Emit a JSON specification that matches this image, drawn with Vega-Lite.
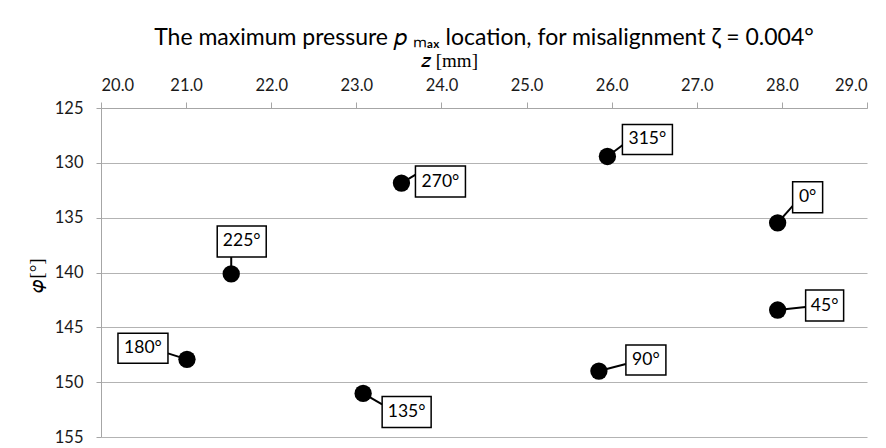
{
  "$schema": "https://vega.github.io/schema/vega-lite/v6.json",
  "autosize": {"type": "none"},
  "padding": {"left": 101, "top": 108, "right": 19, "bottom": 11},
  "width": 766,
  "height": 329,
  "background": "white",
  "config": {
    "view": {"stroke": null},
    "font": "Lato",
    "axis": {"titleFontSize": 19, "labelFontSize": 16.5, "titleFont": "Liberation Serif", "titleFontWeight": "normal", "labelFont": "Lato"}
  },
  "title": {
    "text": "The maximum pressure 𝑝 ₘₐₓ location, for misalignment ζ = 0.004°",
    "font": "Lato",
    "fontSize": 23,
    "fontWeight": "normal",
    "color": "#000000",
    "anchor": "middle",
    "offset": 4,
    "dy": 3
  },
  "data": {
    "values": [
      {"z": 27.95, "phi": 135.47, "label": "0°"},
      {"z": 27.95, "phi": 143.42, "label": "45°"},
      {"z": 25.85, "phi": 148.99, "label": "90°"},
      {"z": 23.08, "phi": 151.03, "label": "135°"},
      {"z": 21.01, "phi": 147.92, "label": "180°"},
      {"z": 21.53, "phi": 140.13, "label": "225°"},
      {"z": 23.53, "phi": 131.85, "label": "270°"},
      {"z": 25.95, "phi": 129.42, "label": "315°"}
    ]
  },
  "encoding": {
    "x": {
      "field": "z", "type": "quantitative",
      "scale": {"domain": [20, 29], "nice": false, "zero": false},
      "axis": {
        "orient": "top", "title": "𝑧 [mm]", "values": [20,21,22,23,24,25,26,27,28,29],
        "format": ".1f", "grid": false,
        "domainColor": "#a6a6a6", "tickColor": "#a6a6a6", "tickSize": 6,
        "labelFont": "Lato", "labelFontSize": 16.5, "labelColor": "#1a1a1a", "labelPadding": 9,
        "titleFont": "Liberation Serif", "titleFontSize": 19, "titleFontWeight": "normal", "titleColor": "#000000",
        "titleX": 348, "titleY": -48, "titleAlign": "center", "titleBaseline": "middle", "titleAnchor": null
      }
    },
    "y": {
      "field": "phi", "type": "quantitative",
      "scale": {"domain": [125, 155], "nice": false, "zero": false, "reverse": true},
      "axis": {
        "title": "𝜑[°]", "values": [125,130,135,140,145,150,155],
        "grid": true, "gridColor": "#b3b3b3", "gridWidth": 1,
        "domainColor": "#a6a6a6", "tickColor": "#a6a6a6", "tickSize": 5,
        "labelFont": "Lato", "labelFontSize": 16.5, "labelColor": "#1a1a1a", "labelPadding": 13,
        "titleFont": "Liberation Serif", "titleFontSize": 19, "titleFontWeight": "normal", "titleColor": "#000000",
        "titleX": -65, "titleY": 167, "titleAlign": "center", "titleBaseline": "middle", "titleAngle": 270
      }
    }
  },
  "layer": [
    {
      "transform": [{"filter": "datum.label === '315°'"}],
      "layer": [
        {"mark": {"type": "rule", "color": "black", "strokeWidth": 2, "x2Offset": 16, "y2Offset": -12}, "encoding": {"x2": {"field": "z"}, "y2": {"field": "phi"}}},
        {"mark": {"type": "rect", "fill": "white", "stroke": "black", "strokeWidth": 1.5, "xOffset": 15, "x2Offset": 65, "yOffset": -32, "y2Offset": -2}, "encoding": {"x2": {"field": "z"}, "y2": {"field": "phi"}}},
        {"mark": {"type": "text", "font": "Lato", "fontSize": 17.5, "color": "black", "dx": 40, "dy": -17, "align": "center", "baseline": "middle"}, "encoding": {"text": {"field": "label"}}}
      ]
    },
    {
      "transform": [{"filter": "datum.label === '0°'"}],
      "layer": [
        {"mark": {"type": "rule", "color": "black", "strokeWidth": 2, "x2Offset": 16, "y2Offset": -18}, "encoding": {"x2": {"field": "z"}, "y2": {"field": "phi"}}},
        {"mark": {"type": "rect", "fill": "white", "stroke": "black", "strokeWidth": 1.5, "xOffset": 15, "x2Offset": 45, "yOffset": -41, "y2Offset": -10}, "encoding": {"x2": {"field": "z"}, "y2": {"field": "phi"}}},
        {"mark": {"type": "text", "font": "Lato", "fontSize": 17.5, "color": "black", "dx": 30, "dy": -25.5, "align": "center", "baseline": "middle"}, "encoding": {"text": {"field": "label"}}}
      ]
    },
    {
      "transform": [{"filter": "datum.label === '45°'"}],
      "layer": [
        {"mark": {"type": "rule", "color": "black", "strokeWidth": 2, "x2Offset": 28, "y2Offset": -3}, "encoding": {"x2": {"field": "z"}, "y2": {"field": "phi"}}},
        {"mark": {"type": "rect", "fill": "white", "stroke": "black", "strokeWidth": 1.5, "xOffset": 28, "x2Offset": 66, "yOffset": -20, "y2Offset": 11}, "encoding": {"x2": {"field": "z"}, "y2": {"field": "phi"}}},
        {"mark": {"type": "text", "font": "Lato", "fontSize": 17.5, "color": "black", "dx": 47, "dy": -4.5, "align": "center", "baseline": "middle"}, "encoding": {"text": {"field": "label"}}}
      ]
    },
    {
      "transform": [{"filter": "datum.label === '90°'"}],
      "layer": [
        {"mark": {"type": "rule", "color": "black", "strokeWidth": 2, "x2Offset": 27, "y2Offset": -7}, "encoding": {"x2": {"field": "z"}, "y2": {"field": "phi"}}},
        {"mark": {"type": "rect", "fill": "white", "stroke": "black", "strokeWidth": 1.5, "xOffset": 27, "x2Offset": 67, "yOffset": -26, "y2Offset": 4}, "encoding": {"x2": {"field": "z"}, "y2": {"field": "phi"}}},
        {"mark": {"type": "text", "font": "Lato", "fontSize": 17.5, "color": "black", "dx": 47, "dy": -11, "align": "center", "baseline": "middle"}, "encoding": {"text": {"field": "label"}}}
      ]
    },
    {
      "transform": [{"filter": "datum.label === '135°'"}],
      "layer": [
        {"mark": {"type": "rule", "color": "black", "strokeWidth": 2, "x2Offset": 19, "y2Offset": 11}, "encoding": {"x2": {"field": "z"}, "y2": {"field": "phi"}}},
        {"mark": {"type": "rect", "fill": "white", "stroke": "black", "strokeWidth": 1.5, "xOffset": 19, "x2Offset": 68, "yOffset": 3, "y2Offset": 34}, "encoding": {"x2": {"field": "z"}, "y2": {"field": "phi"}}},
        {"mark": {"type": "text", "font": "Lato", "fontSize": 17.5, "color": "black", "dx": 43.5, "dy": 18.5, "align": "center", "baseline": "middle"}, "encoding": {"text": {"field": "label"}}}
      ]
    },
    {
      "transform": [{"filter": "datum.label === '180°'"}],
      "layer": [
        {"mark": {"type": "rule", "color": "black", "strokeWidth": 2, "x2Offset": -19, "y2Offset": -6}, "encoding": {"x2": {"field": "z"}, "y2": {"field": "phi"}}},
        {"mark": {"type": "rect", "fill": "white", "stroke": "black", "strokeWidth": 1.5, "xOffset": -69, "x2Offset": -19, "yOffset": -26, "y2Offset": 4}, "encoding": {"x2": {"field": "z"}, "y2": {"field": "phi"}}},
        {"mark": {"type": "text", "font": "Lato", "fontSize": 17.5, "color": "black", "dx": -44, "dy": -11, "align": "center", "baseline": "middle"}, "encoding": {"text": {"field": "label"}}}
      ]
    },
    {
      "transform": [{"filter": "datum.label === '225°'"}],
      "layer": [
        {"mark": {"type": "rule", "color": "black", "strokeWidth": 2, "x2Offset": 0, "y2Offset": -18}, "encoding": {"x2": {"field": "z"}, "y2": {"field": "phi"}}},
        {"mark": {"type": "rect", "fill": "white", "stroke": "black", "strokeWidth": 1.5, "xOffset": -14, "x2Offset": 35, "yOffset": -48, "y2Offset": -17}, "encoding": {"x2": {"field": "z"}, "y2": {"field": "phi"}}},
        {"mark": {"type": "text", "font": "Lato", "fontSize": 17.5, "color": "black", "dx": 10.5, "dy": -32.5, "align": "center", "baseline": "middle"}, "encoding": {"text": {"field": "label"}}}
      ]
    },
    {
      "transform": [{"filter": "datum.label === '270°'"}],
      "layer": [
        {"mark": {"type": "rule", "color": "black", "strokeWidth": 2, "x2Offset": 15, "y2Offset": -9}, "encoding": {"x2": {"field": "z"}, "y2": {"field": "phi"}}},
        {"mark": {"type": "rect", "fill": "white", "stroke": "black", "strokeWidth": 1.5, "xOffset": 14, "x2Offset": 64, "yOffset": -17, "y2Offset": 14}, "encoding": {"x2": {"field": "z"}, "y2": {"field": "phi"}}},
        {"mark": {"type": "text", "font": "Lato", "fontSize": 17.5, "color": "black", "dx": 39, "dy": -1.5, "align": "center", "baseline": "middle"}, "encoding": {"text": {"field": "label"}}}
      ]
    },
    {
      "mark": {"type": "point", "shape": "circle", "filled": true, "color": "black", "size": 300, "opacity": 1}
    }
  ]
}
